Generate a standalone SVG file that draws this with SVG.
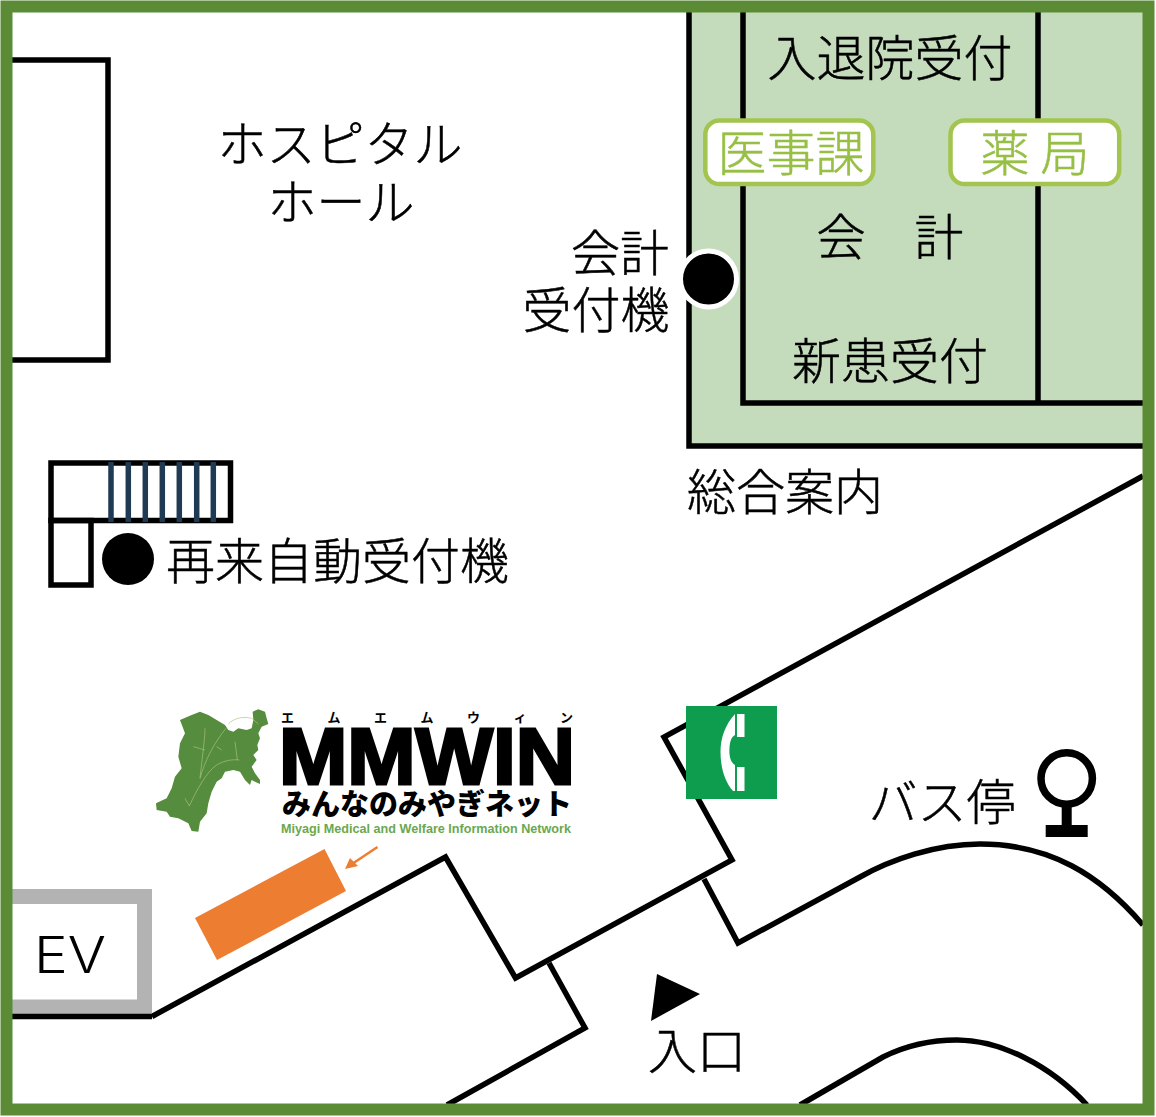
<svg xmlns="http://www.w3.org/2000/svg" width="1156" height="1117" viewBox="0 0 1156 1117">
<style>
.l{fill:none;stroke:#000;stroke-width:5.500}
.t{font-family:"Noto Sans CJK JP","Noto Sans",sans-serif;font-size:49px;font-weight:300;fill:#000;stroke:#000;stroke-width:.5}
.g{fill:#97bf45;stroke:#97bf45}
.tag{fill:#fff;stroke:#a3c44f;stroke-width:4.500}
.road{fill:none;stroke:#a9c47a;stroke-width:2}
</style>
<rect width="1156" height="1117" fill="#fff"/>
<g id="counter-area">
<rect x="689" y="12" width="454" height="434" fill="#c5dcbc"/>
<path class="l" d="M689 12V446H1143M743 12V403H1143M1038 12V403"/>
</g>
<g id="connectors">
<path class="l" d="M12 60H108V360H12"/>
<path class="l" d="M1143 476L664 737L732 860L515.500 978L445.500 857L152 1016.500"/>
<path class="l" d="M704 879L738 943L860 877C890 860 935 844 980 844C1050 844 1100 875 1143 925"/>
<path class="l" d="M549 963L585 1028L447 1105"/>
<path class="l" d="M800 1105L883 1057C905 1046 930 1040 957 1040C1000 1040 1050 1065 1087 1105"/>
</g>
<g id="stairs">
<rect class="l" x="51" y="463" width="179.500" height="57.500" fill="#fff"/>
<rect class="l" x="51" y="520.500" width="40" height="64.500"/>
<path d="M111 462V522M128.300 462V522M145.300 462V522M162.300 462V522M179.300 462V522M196.700 462V522M213.300 462V522" stroke="#1f3a52" stroke-width="5.500" fill="none"/>
</g>
<g id="reentry"><circle cx="128" cy="559" r="26"/><text class="t" x="166" y="579">再来自動受付機</text></g>
<g id="hall"><text class="t" x="340" y="162" text-anchor="middle">ホスピタル</text><text class="t" x="341" y="220" text-anchor="middle">ホール</text></g>
<g id="kiosk"><circle cx="708.500" cy="279" r="28" stroke="#fff" stroke-width="5"/><text class="t" x="620" y="271" text-anchor="middle">会計</text><text class="t" x="596" y="328" text-anchor="middle">受付機</text></g>
<g id="admission"><text class="t" x="890" y="76" text-anchor="middle">入退院受付</text></g>
<g id="accounting"><text class="t" x="890" y="255" text-anchor="middle">会　計</text></g>
<g id="new-patient"><text class="t" x="890" y="379" text-anchor="middle">新患受付</text></g>
<g id="guide"><text class="t" x="785" y="510" text-anchor="middle">総合案内</text></g>
<g id="medical-affairs"><rect class="tag" x="705.300" y="120.600" width="168" height="63.500" rx="14"/><text class="t g" x="791" y="171" text-anchor="middle">医事課</text></g>
<g id="pharmacy"><rect class="tag" x="950.500" y="120.600" width="168.700" height="63.500" rx="14"/><text class="t g" x="1035" y="171" text-anchor="middle">薬 局</text></g>
<g id="ev"><path d="M12 896.500H144.500V1007H12" fill="#fff" stroke="#b3b3b3" stroke-width="15"/><path class="l" d="M12 1016.500H152"/><text x="34" y="973" textLength="72" lengthAdjust="spacingAndGlyphs" style="font-family:Inter,'Liberation Sans',sans-serif;font-size:50px;font-weight:300">EV</text></g>
<g id="phone"><rect x="686" y="706" width="91" height="93" fill="#0e9c4e"/><path d="M735 714C725 725 720.500 738 720.500 752C720.500 768 725 782 733 791H735V765C730 762 729 755 729.500 748C730 742 731 737 735 735ZM737 714H744.500V737H737ZM737 767H744.500V791H737Z" fill="#fff"/></g>
<g id="bus"><text class="t" x="942" y="820" text-anchor="middle">バス停</text><circle cx="1066.700" cy="778.500" r="25.700" fill="none" stroke="#000" stroke-width="7.500"/><path d="M1061.700 803H1071.700V825H1087.700V837H1045.700V825H1061.700Z"/></g>
<g id="entrance"><path d="M657 974L700 994L651 1021Z"/><text class="t" x="697" y="1069" text-anchor="middle">入口</text></g>
<g id="mmwin-logo">
<g transform="translate(150 700) scale(.3333)">
<path d="M90 60L125 45L150 35L175 45L200 60L225 75L235 90L250 95L265 85L290 90L305 85L310 60L308 35L325 28L345 35L350 55L355 72L335 80L325 100L330 115L322 135L325 150L310 165L320 180L305 200L315 220L330 240L330 252L315 245L305 240L300 255L285 240L270 215L250 210L225 215L215 235L200 245L185 275L175 310L170 340L150 365L145 395L125 393L115 370L85 355L60 350L50 335L20 330L18 310L50 295L65 265L75 230L95 205L85 170L90 130L105 100Z" fill="#568c3e"/>
<path class="road" d="M228 85C195 125 165 180 150 235M118 318C140 270 170 215 200 195C225 180 250 178 268 180M165 85C165 110 160 145 150 235M130 140L165 150M255 125L262 180M235 72C250 55 280 48 305 55L325 72M200 140L215 150M118 318L105 295"/>
</g>
<text x="427" y="722" text-anchor="middle" textLength="292" style="font-family:'Noto Sans CJK JP',sans-serif;font-size:13px;font-weight:700">エムエムウィン</text>
<text x="427" y="784" text-anchor="middle" textLength="296" lengthAdjust="spacingAndGlyphs" stroke="#000" stroke-width="3" style="font-family:'Liberation Sans',sans-serif;font-size:80px;font-weight:700">MMWIN</text>
<text x="427" y="815" text-anchor="middle" textLength="290" style="font-family:'Noto Sans CJK JP',sans-serif;font-size:29px;font-weight:900">みんなのみやぎネット</text>
<text x="426" y="833" text-anchor="middle" textLength="290" lengthAdjust="spacingAndGlyphs" style="font-family:'Liberation Sans',sans-serif;font-size:12px;font-weight:700;fill:#6aa84f">Miyagi Medical and Welfare Information Network</text>
</g>
<g id="mmwin-station">
<path d="M195 918L324.500 849L346 891L217 960Z" fill="#ed7d31"/>
<path d="M377.500 847L352 864" stroke="#ed7d31" stroke-width="2.500" fill="none"/><path d="M345 869L350 858L358 866Z" fill="#ed7d31"/>
</g>
<rect x="6.500" y="6.500" width="1142" height="1103" fill="none" stroke="#5b8c35" stroke-width="12"/>
</svg>
